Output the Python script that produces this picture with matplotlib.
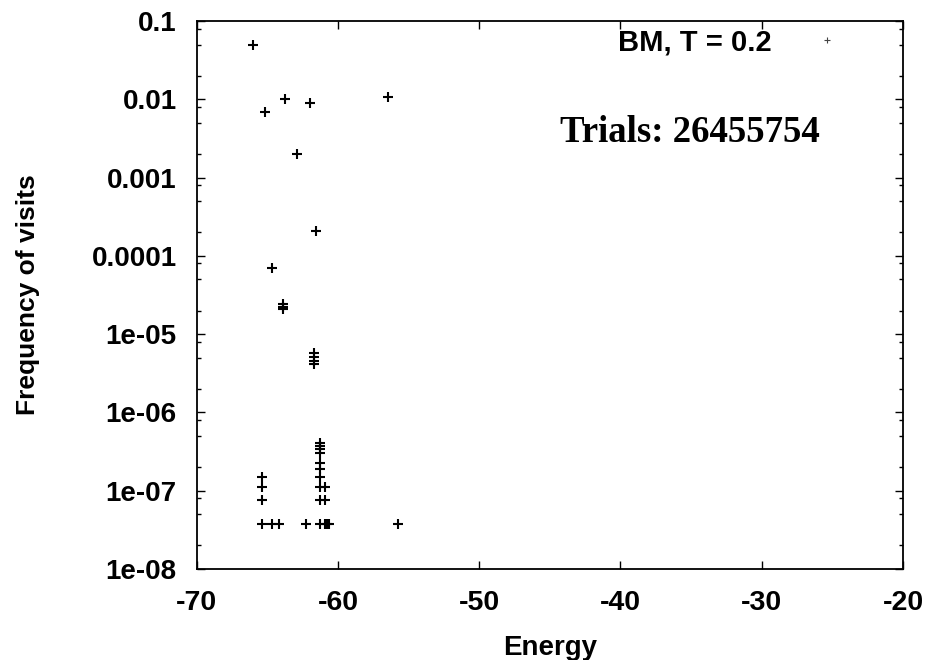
import matplotlib
matplotlib.use("Agg")
import matplotlib.pyplot as plt
from matplotlib.ticker import LogLocator, NullFormatter, FixedLocator

# ---- data ----
energy = [-66.0, -65.2, -63.73, -62.0, -56.45, -62.9, -61.55, -64.67,
          -63.87, -63.87, -63.87,
          -61.68, -61.68, -61.68, -61.68,
          -61.27, -61.27, -61.27, -61.27, -61.27, -61.27, -61.27, -61.27, -61.27, -61.27,
          -60.92, -60.92, -60.92,
          -65.38, -65.38, -65.38, -65.38,
          -64.65, -64.2, -62.24, -60.8, -60.64, -55.73]
frequency = [0.0494, 0.00689, 0.0101, 0.00897, 0.0107, 0.00199, 0.00021, 6.95e-5,
             2.4e-5, 2.24e-5, 2.09e-5,
             5.7e-6, 5.16e-6, 4.59e-6, 4.16e-6,
             4.05e-7, 3.73e-7, 3.42e-7, 3.01e-7, 2.24e-7, 1.88e-7, 1.49e-7, 1.11e-7, 7.5e-8, 3.73e-8,
             1.11e-7, 7.5e-8, 3.73e-8,
             1.49e-7, 1.11e-7, 7.5e-8, 3.73e-8,
             3.73e-8, 3.73e-8, 3.73e-8, 3.73e-8, 3.73e-8, 3.73e-8]
series_label = "BM, T = 0.2"
annotation = "Trials: 26455754"
x_ticks = [-70, -60, -50, -40, -30, -20]
y_ticks = [1e-8, 1e-7, 1e-6, 1e-5, 1e-4, 1e-3, 1e-2, 1e-1]
y_tick_labels = ["1e-08", "1e-07", "1e-06", "1e-05", "0.0001", "0.001", "0.01", "0.1"]

W, H = 929, 660
fig = plt.figure(figsize=(W / 100, H / 100), dpi=100)
L, R, T, B = 196.7, 903, 21, 569
ax = fig.add_axes([L / W, 1 - B / H, (R - L) / W, (B - T) / H])

sans = ['Liberation Sans', 'DejaVu Sans']

ax.plot(energy, frequency, linestyle='none', marker='+', color='black',
        markersize=6.8, markeredgewidth=1.5, label=series_label)

ax.set_yscale('log')
ax.set_xlim(-70, -20)
ax.set_ylim(1e-8, 0.1)

ax.xaxis.set_major_locator(FixedLocator(x_ticks))
ax.set_xticklabels([str(v) for v in x_ticks], family=sans, fontsize=20.5, fontweight='bold')
ax.yaxis.set_major_locator(FixedLocator(y_ticks))
ax.set_yticklabels(y_tick_labels, family=sans, fontsize=20, fontweight='bold')
ax.yaxis.set_minor_locator(LogLocator(base=10, subs=[2, 5, 8], numticks=20))
ax.yaxis.set_minor_formatter(NullFormatter())

ax.tick_params(which='both', direction='in', top=True, right=True, width=1.0, color='black')
ax.tick_params(which='major', length=6)
ax.tick_params(which='minor', length=3)
ax.tick_params(axis='x', which='major', pad=15)
ax.tick_params(axis='y', which='major', pad=14.5)
for s in ax.spines.values():
    s.set_linewidth(1.3)

ax.set_xlabel("Energy", family=sans, fontsize=20, fontweight='bold')
ax.xaxis.set_label_coords(0.5, -0.12)
ax.set_ylabel("Frequency of visits", family=sans, fontsize=19, fontweight='bold')
ax.yaxis.set_label_coords(-0.222, 0.5)

leg = ax.legend(loc='upper right', bbox_to_anchor=(0.93, 0.987), frameon=False,
                markerfirst=False, borderpad=0, borderaxespad=0,
                handlelength=1.8, handletextpad=1.0,
                prop={'family': sans, 'size': 21, 'weight': 'bold'})
for h in leg.legend_handles:
    h.set_markersize(5)
    h.set_markeredgewidth(0.8)
    h.set_color('#444444')

fig.text(560 / W, 1 - 142 / H, annotation, family=['Liberation Serif', 'DejaVu Serif'],
         fontsize=26.5, fontweight='bold', ha='left', va='baseline')

fig.savefig("out.png", dpi=100)
